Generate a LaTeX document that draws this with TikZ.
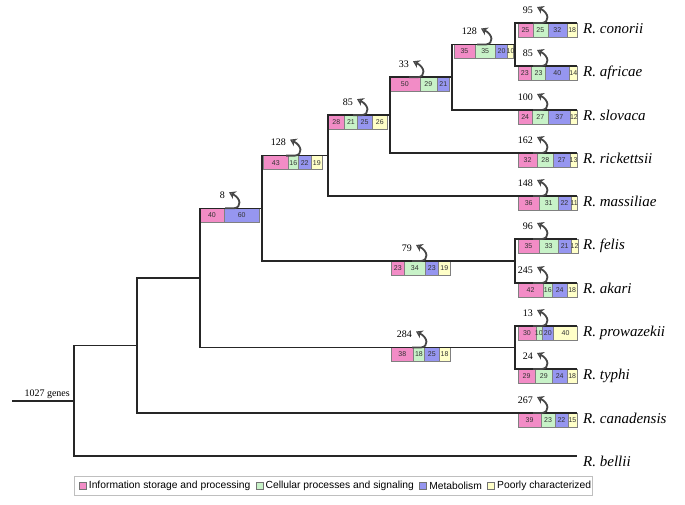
\documentclass[tikz,border=0pt]{standalone}
\usepackage{fontspec}
\setmainfont{Liberation Serif}
\setsansfont{Liberation Sans}
\usetikzlibrary{arrows.meta,positioning}

\definecolor{pinkc}{RGB}{242,140,198}
\definecolor{greenc}{RGB}{200,242,200}
\definecolor{bluec}{RGB}{150,150,240}
\definecolor{yellowc}{RGB}{255,255,200}

\tikzset{
  tree/.style={line width=1.6pt, draw=black!85},
  barnum/.style={font=\sffamily\fontsize{7}{7}\selectfont, text=black!80, inner sep=0pt},
  seg/.style={draw=black!50, line width=0.5pt},
  lossarrow/.style={line width=1.8pt, draw=black!72, -{Stealth[length=6.5pt,width=8.5pt,inset=2pt,fill=black!45]}},
  losslbl/.style={font=\fontsize{10}{11}\selectfont, inner sep=0pt, anchor=east},
  leaf/.style={font=\itshape\fontsize{15}{17}\selectfont, inner sep=0pt, anchor=base west},
  legsq/.style={draw=black!55, line width=0.4pt, minimum size=7pt, inner sep=0pt},
  legtxt/.style={font=\sffamily\fontsize{10.3}{11}\selectfont, inner sep=0pt},
}

\def\bw{0.595}
\newcommand{\gseg}[6]{%
  \ifnum#6>0
  \begin{scope}
    \filldraw[seg, fill=#5] (#2,#4) rectangle (#3,#4+14);
    \clip (#2,#4) rectangle (#3,#4+14);
    \node[barnum] (#1) at ({(#2+#3)/2},#4+7) {#6};
  \end{scope}
  \fi
}
\newcommand{\genebar}[7]{%
  \pgfmathsetmacro{\gbA}{#2}%
  \pgfmathsetmacro{\gbB}{\gbA+\bw*#4}%
  \pgfmathsetmacro{\gbC}{\gbB+\bw*#5}%
  \pgfmathsetmacro{\gbD}{\gbC+\bw*#6}%
  \pgfmathsetmacro{\gbE}{\gbD+\bw*#7}%
  \gseg{#1p}{\gbA}{\gbB}{#3}{pinkc}{#4}%
  \gseg{#1g}{\gbB}{\gbC}{#3}{greenc}{#5}%
  \gseg{#1b}{\gbC}{\gbD}{#3}{bluec}{#6}%
  \gseg{#1y}{\gbD}{\gbE}{#3}{yellowc}{#7}%
}
\newcommand{\lossarr}[4]{%
  \draw[lossarrow] (#2-7,#3) -- (#2+2,#3) .. controls (#2+10,#3-1) and (#2+9,#3-10) .. (#2-3,#3-16);
  \node[losslbl] (#1) at (#2-7,#3-13) {#4};
}

\begin{document}
\begin{tikzpicture}[x=1pt,y=-1pt]
\useasboundingbox (0,0) rectangle (685,504);

% leaf ends
\coordinate (conorii) at (577,23);
\coordinate (africae) at (577,66);
\coordinate (slovaca) at (577,110);
\coordinate (rickettsii) at (577,153);
\coordinate (massiliae) at (577,196);
\coordinate (felis) at (577,239);
\coordinate (akari) at (577,283);
\coordinate (prowazekii) at (577,326);
\coordinate (typhi) at (577,369);
\coordinate (canadensis) at (577,413);
\coordinate (bellii) at (577,456);

% internal nodes
\coordinate (nA) at (515,44.5);
\coordinate (nB) at (452,77.25);
\coordinate (nC) at (390,115.1);
\coordinate (nD) at (328,155.6);
\coordinate (nF) at (515,261);
\coordinate (nE) at (262,208.3);
\coordinate (nH) at (515,347.5);
\coordinate (nG) at (200,277.9);
\coordinate (nI) at (137,345.5);
\coordinate (nJ) at (74,400.7);
\coordinate (root) at (12,400.7);

% bars
\genebar{bconorii}{518}{23}{25}{25}{32}{18}
\genebar{bafricae}{518}{66}{23}{23}{40}{14}
\genebar{bslovaca}{518}{110}{24}{27}{37}{12}
\genebar{brickettsii}{518}{153}{32}{28}{27}{13}
\genebar{bmassiliae}{518}{196}{36}{31}{22}{11}
\genebar{bfelis}{518}{239}{35}{33}{21}{12}
\genebar{bakari}{518}{283}{42}{16}{24}{18}
\genebar{bprowazekii}{518}{326}{30}{10}{20}{40}
\genebar{btyphi}{518}{369}{29}{29}{24}{18}
\genebar{bcanadensis}{518}{413}{39}{23}{22}{15}
\genebar{bA}{454}{44.5}{35}{35}{20}{10}
\genebar{bB}{390}{77.25}{50}{29}{21}{0}
\genebar{bC}{328}{115.1}{28}{21}{25}{26}
\genebar{bD}{263}{155.6}{43}{16}{22}{19}
\genebar{bE}{200}{208.3}{40}{0}{60}{0}
\genebar{bF}{391}{261}{23}{34}{23}{19}
\genebar{bH}{391}{347.5}{38}{18}{25}{18}

% tree
\draw[tree] (nA) |- (conorii);
\draw[tree] (nA) |- (africae);
\draw[tree] (nB) |- (nA);
\draw[tree] (nB) |- (slovaca);
\draw[tree] (nC) |- (nB);
\draw[tree] (nC) |- (rickettsii);
\draw[tree] (nD) |- (nC);
\draw[tree] (nD) |- (massiliae);
\draw[tree] (nE) |- (nD);
\draw[tree] (nE) |- (nF);
\draw[tree] (nF) |- (felis);
\draw[tree] (nF) |- (akari);
\draw[tree] (nG) |- (nE);
\draw[tree] (nG) |- (nH);
\draw[tree] (nH) |- (prowazekii);
\draw[tree] (nH) |- (typhi);
\draw[tree] (nI) |- (nG);
\draw[tree] (nI) |- (canadensis);
\draw[tree] (nJ) |- (nI);
\draw[tree] (nJ) |- (bellii);
\draw[tree] (root) -- (nJ);

% loss arrows
\lossarr{lconorii}{540}{23}{95}
\lossarr{lafricae}{540}{66}{85}
\lossarr{lslovaca}{540}{110}{100}
\lossarr{lrickettsii}{540}{153}{162}
\lossarr{lmassiliae}{540}{196}{148}
\lossarr{lfelis}{540}{239}{96}
\lossarr{lakari}{540}{283}{245}
\lossarr{lprowazekii}{540}{326}{13}
\lossarr{ltyphi}{540}{369}{24}
\lossarr{lcanadensis}{540}{413}{267}
\lossarr{lA}{484}{44.5}{128}
\lossarr{lB}{416}{77.25}{33}
\lossarr{lC}{360}{115.1}{85}
\lossarr{lD}{293}{155.6}{128}
\lossarr{lE}{232}{208.3}{8}
\lossarr{lF}{419}{261}{79}
\lossarr{lH}{419}{347.5}{284}

% leaf labels
\node[leaf] (tconorii) at (583,33) {R. conorii};
\node[leaf] (tafricae) at (583,76) {R. africae};
\node[leaf] (tslovaca) at (583,120) {R. slovaca};
\node[leaf] (trickettsii) at (583,163) {R. rickettsii};
\node[leaf] (tmassiliae) at (583,206) {R. massiliae};
\node[leaf] (tfelis) at (583,249) {R. felis};
\node[leaf] (takari) at (583,293) {R. akari};
\node[leaf] (tprowazekii) at (583,336) {R. prowazekii};
\node[leaf] (ttyphi) at (583,379) {R. typhi};
\node[leaf] (tcanadensis) at (583,423) {R. canadensis};
\node[leaf] (tbellii) at (583,466) {R. bellii};

\node[font=\fontsize{10}{11}\selectfont, inner sep=0pt, anchor=base east] (rootlbl) at (70,396) {1027 genes};

% legend
\draw[draw=black!25, line width=0.6pt, fill=white] (74,476) rectangle (592,495);
\node[legsq, fill=pinkc] (lq1) at (82.5,485.5) {};
\node[legtxt, anchor=west] (lt1) at ([xshift=2.5pt]lq1.east) {Information storage and processing};
\node[legsq, fill=greenc, anchor=west] (lq2) at ([xshift=5pt]lt1.east) {};
\node[legtxt, anchor=west] (lt2) at ([xshift=2.5pt]lq2.east) {Cellular processes and signaling};
\node[legsq, fill=bluec, anchor=west] (lq3) at ([xshift=5pt]lt2.east) {};
\node[legtxt, anchor=west] (lt3) at ([xshift=2.5pt]lq3.east) {Metabolism};
\node[legsq, fill=yellowc, anchor=west] (lq4) at ([xshift=5pt]lt3.east) {};
\node[legtxt, anchor=west] (lt4) at ([xshift=2.5pt]lq4.east) {Poorly characterized};
\end{tikzpicture}
\end{document}
